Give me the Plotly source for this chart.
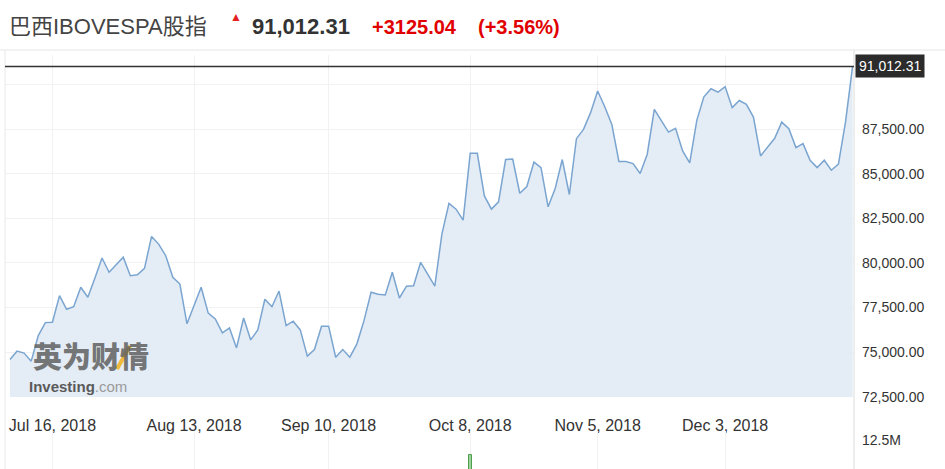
import pandas as pd
import plotly.graph_objects as go

# B3 trading calendar (exchange holidays are skipped)
holidays = ["2018-07-09", "2018-09-07", "2018-10-12", "2018-11-02", "2018-11-15",
            "2018-11-20", "2018-12-24", "2018-12-25", "2018-12-31", "2019-01-01"]
dates = [d.strftime("%Y-%m-%d") for d in pd.bdate_range("2018-07-05", "2019-01-02")
         if d.strftime("%Y-%m-%d") not in holidays]

closes = [
    74580, 75050, 74940, 74490, 75920, 76650, 76670, 78160, 77400, 77545, 78630,
    78070, 79150, 80270, 79470, 79890, 80320, 79280, 79330, 79690, 81480, 81050,
    80400, 79190, 78810, 76580, 77600, 78630, 77180, 76860, 76070, 76350, 75230,
    76910, 75680, 76240, 77960, 77540, 78420, 76480, 76730, 76240, 74770,
    75140, 76450, 76450, 74710, 75140, 74710, 75460, 76760, 78350, 78240, 78200,
    79470, 78030, 78690, 78720, 80030, 79370, 78700, 81610, 83330, 83010,
    82390, 86140, 86140, 83750, 83010, 83420, 85790, 85820, 83900, 84280, 85650,
    85340, 83140, 84170, 85790, 83830, 86960, 87480, 88420, 89630, 88750,
    87760, 85680, 85680, 85560, 85010, 86090, 88600, 87950, 87330, 87540, 86270,
    85600, 87990, 89310, 89760, 89570, 89870, 88700, 89100, 88880, 88170, 85990,
    86460, 86980, 87890, 87520, 86460, 86680, 85750, 85340, 85750, 85190, 85530,
    87887.27, 91012.31,
]

tick_dates = ["2018-07-16", "2018-08-13", "2018-09-10", "2018-10-08", "2018-11-05", "2018-12-03"]
tick_text = ["Jul 16, 2018", "Aug 13, 2018", "Sep 10, 2018", "Oct 8, 2018", "Nov 5, 2018", "Dec 3, 2018"]
price_ticks = [72500, 75000, 77500, 80000, 82500, 85000, 87500, 90000]
price_text = ["72,500.00", "75,000.00", "77,500.00", "80,000.00", "82,500.00",
              "85,000.00", "87,500.00", ""]

vol_dates = ["2018-10-08"]
vol_values = [8.75e6]

title = "巴西IBOVESPA股指"
last = closes[-1]
chg = closes[-1] - closes[-2]
pct = chg / closes[-2] * 100

W, H = 945, 469
ML, MR, MT, MB = 5, 91, 55, 0
PW, PH = W - ML - MR, H - MT - MB


def px(x):
    return (x - ML) / PW


def py(y):
    return (H - MB - y) / PH


FONT = "Liberation Sans, Arial, Noto Sans CJK SC, sans-serif"
GRID = "#f2f2f2"
xr = [-0.7, len(dates) - 1 + 0.2]

fig = go.Figure()
fig.add_trace(go.Scatter(x=dates, y=closes, mode="lines", fill="tozeroy",
                         fillcolor="rgb(228,236,245)",
                         line=dict(color="rgb(122,165,208)", width=1.5),
                         hoverinfo="skip", showlegend=False))
fig.add_trace(go.Bar(x=vol_dates, y=vol_values, xaxis="x2", yaxis="y2", width=0.45,
                     marker=dict(color="#9bd39b", line=dict(color="#4f9f4f", width=1)),
                     hoverinfo="skip", showlegend=False))

fig.update_layout(
    width=W, height=H, margin=dict(l=ML, r=MR, t=MT, b=MB, autoexpand=False),
    paper_bgcolor="white", plot_bgcolor="white",
    font=dict(family=FONT, color="#333"),
    hovermode=False, bargap=0,
    xaxis=dict(type="category", categoryorder="array", categoryarray=dates, range=xr,
               tickvals=tick_dates, ticktext=tick_text, showgrid=True, gridcolor=GRID,
               zeroline=False, showline=False, ticks="", ticklabelstandoff=17,
               tickfont=dict(size=16, color="#333"), anchor="y", fixedrange=True,
               automargin=False),
    yaxis=dict(domain=[py(397), 1], range=[72480, 91650], side="right",
               tickvals=price_ticks, ticktext=price_text, showgrid=True, gridcolor=GRID,
               zeroline=False, ticks="", ticklabelstandoff=7,
               tickfont=dict(size=14, color="#333"), fixedrange=True, automargin=False),
    xaxis2=dict(type="category", categoryorder="array", categoryarray=dates, range=xr,
                tickvals=tick_dates, showticklabels=False, showgrid=True, gridcolor=GRID,
                zeroline=False, anchor="y2", fixedrange=True, automargin=False),
    yaxis2=dict(domain=[0, py(431)], range=[5.25e6, 14.75e6], side="right",
                tickvals=[12.5e6], ticktext=["12.5M"], showgrid=False, zeroline=False,
                ticks="", ticklabelstandoff=7, tickfont=dict(size=14, color="#333"),
                anchor="x2", fixedrange=True, automargin=False),
)

# borders, header separator and last-price line
fig.add_shape(type="line", xref="paper", yref="paper", x0=px(0), x1=px(W), y0=py(50), y1=py(50),
              line=dict(color="#e6e6e6", width=1))
fig.add_shape(type="line", xref="paper", yref="paper", x0=0, x1=0, y0=0, y1=py(50),
              line=dict(color="#e8e8e8", width=1))
fig.add_shape(type="line", xref="paper", yref="paper", x0=1, x1=1, y0=0, y1=py(50),
              line=dict(color="#dcdcdc", width=1))
fig.add_shape(type="line", xref="paper", yref="y", x0=0, x1=1, y0=last, y1=last,
              line=dict(color="#333", width=1.5))

# header
fig.add_annotation(text=title, x=px(7), y=py(27), xref="paper", yref="paper",
                   xanchor="left", yanchor="middle", showarrow=False,
                   font=dict(size=22, color="#444"))
fig.add_annotation(text="▲", x=px(236), y=py(17), xref="paper", yref="paper",
                   xanchor="center", yanchor="middle",
                   showarrow=False, font=dict(size=12, color="#e42020"))
fig.add_annotation(text=f"<b>{last:,.2f}</b>", x=px(250), y=py(27), xref="paper", yref="paper",
                   xanchor="left", yanchor="middle", showarrow=False,
                   font=dict(size=22, color="#333"))
fig.add_annotation(text=f"<b>{chg:+.2f}</b>", x=px(370), y=py(27), xref="paper", yref="paper",
                   xanchor="left", yanchor="middle", showarrow=False,
                   font=dict(size=20, color="#e10000"))
fig.add_annotation(text=f"<b>({pct:+.2f}%)</b>", x=px(476), y=py(27), xref="paper", yref="paper",
                   xanchor="left", yanchor="middle", showarrow=False,
                   font=dict(size=20, color="#e10000"))

# last price tag
fig.add_annotation(text=f"{last:,.2f}", x=1, y=last, xref="paper", yref="y",
                   xanchor="left", yanchor="middle", xshift=1, showarrow=False,
                   bgcolor="#2b2b2b", borderpad=3, font=dict(size=14, color="white"))

# watermark
fig.add_annotation(text="英为财情", x=px(91), y=py(355), xref="paper", yref="paper",
                   xanchor="center", yanchor="middle", showarrow=False,
                   font=dict(size=29, color="rgba(95,95,95,0.85)", weight=900,
                             family="Noto Sans CJK SC"))
fig.add_shape(type="line", xref="paper", yref="paper", x0=px(117), x1=px(130),
              y0=py(369), y1=py(346), line=dict(color="rgba(240,180,40,0.9)", width=4))
fig.add_annotation(text="<b>Investing</b><span style='color:#9a9a9a'>.com</span>",
                   x=px(27), y=py(386), xref="paper", yref="paper", xanchor="left",
                   yanchor="middle", showarrow=False, font=dict(size=15, color="#5a5a5a"))

fig.write_html("out.html", config={"displayModeBar": False},
               post_script="document.body.style.margin='0';")
